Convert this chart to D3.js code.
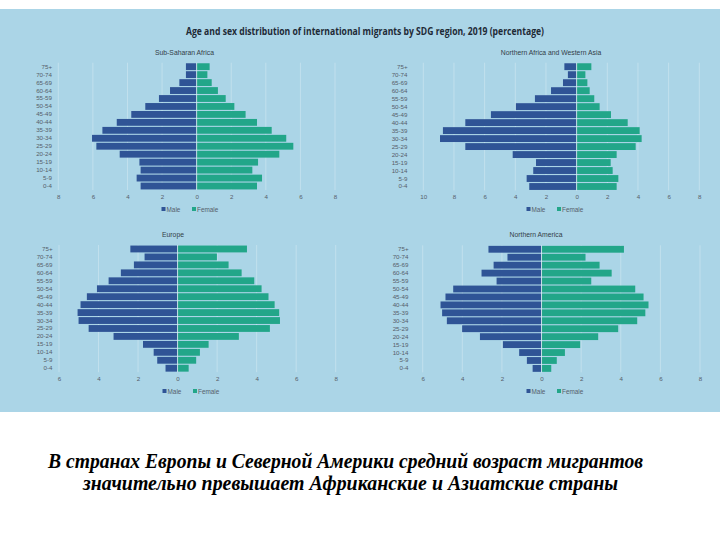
<!DOCTYPE html>
<html>
<head>
<meta charset="utf-8">
<script src="https://cdn.jsdelivr.net/npm/d3@7"></script>
<style>
  html, body { margin: 0; padding: 0; background: #ffffff; }
  svg { display: block; }
</style>
</head>
<body>
<svg id="chart" width="720" height="540"></svg>
<script>
// ---------- DATA ----------
const chartTitle = "Age and sex distribution of international migrants by SDG region, 2019 (percentage)";
const ageGroups = ["0-4","5-9","10-14","15-19","20-24","25-29","30-34","35-39","40-44","45-49","50-54","55-59","60-64","65-69","70-74","75+"];
const regionNames = ["Sub-Saharan Africa","Northern Africa and Western Asia","Europe","Northern America"];
const seriesNames = ["Male","Female"];

const ssaMale   = [3.24,3.47,3.24,3.31,4.45,5.80,6.05,5.45,4.62,3.78,2.97,2.18,1.54,1.00,0.62,0.62];
const ssaFemale = [3.49,3.78,3.22,3.55,4.78,5.59,5.18,4.34,3.49,2.83,2.18,1.68,1.23,0.87,0.62,0.75];
const nawaMale   = [3.09,3.26,2.83,2.65,4.17,7.26,8.91,8.72,7.26,5.59,3.96,2.72,1.67,0.89,0.57,0.80];
const nawaFemale = [2.61,2.72,2.35,2.22,2.61,3.85,4.24,4.11,3.33,2.24,1.50,1.15,0.85,0.70,0.57,0.96];
const eurMale   = [0.61,1.03,1.21,1.75,3.24,4.50,5.01,5.06,4.91,4.59,4.08,3.49,2.87,2.21,1.67,2.39];
const eurFemale = [0.56,0.94,1.13,1.57,3.10,4.67,5.18,5.14,4.91,4.60,4.25,3.88,3.24,2.58,1.99,3.51];
const naMale   = [0.45,0.74,1.13,1.95,3.11,4.01,4.78,5.02,5.10,4.85,4.46,2.27,3.03,2.42,1.72,2.68];
const naFemale = [0.49,0.77,1.18,1.95,2.86,3.87,4.83,5.24,5.40,5.15,4.73,2.51,3.54,2.93,2.22,4.16];

const ssaTicks  = [-8,-6,-4,-2,0,2,4,6,8];
const nawaTicks = [-10,-8,-6,-4,-2,0,2,4,6,8];
const eurTicks  = [-6,-4,-2,0,2,4,6,8];
const naTicks   = [-6,-4,-2,0,2,4,6,8];

const captionLines = [
  "В странах Европы и Северной Америки средний возраст мигрантов",
  "значительно превышает Африканские и Азиатские страны"
];

// ---------- STYLE / LAYOUT ----------
const colors = { bg: "#abd5e7", male: "#2f5496", female: "#22a689", text: "#3a4654", tick: "#56606a" };
const panels = [
  { name: regionNames[0], male: ssaMale,  female: ssaFemale,  ticks: ssaTicks,  x0: 58.3,  x1: 335,   yTop: 62.7,  yBot: 190,   titleX: 184.5, titleY: 52,  labelX: 52,  tickY: 197, legendX: 188, legendY: 209 },
  { name: regionNames[1], male: nawaMale, female: nawaFemale, ticks: nawaTicks, x0: 423.3, x1: 699.3, yTop: 62.7,  yBot: 190.5, titleX: 551,   titleY: 52,  labelX: 407.5, tickY: 197, legendX: 553, legendY: 209 },
  { name: regionNames[2], male: eurMale,  female: eurFemale,  ticks: eurTicks,  x0: 59,    x1: 335.7, yTop: 245,   yBot: 372.2, titleX: 173,   titleY: 234, labelX: 52.5, tickY: 379, legendX: 189, legendY: 391 },
  { name: regionNames[3], male: naMale,   female: naFemale,   ticks: naTicks,   x0: 422.7, x1: 700,   yTop: 245.3, yBot: 372.4, titleX: 536,   titleY: 234, labelX: 408.5, tickY: 379, legendX: 553, legendY: 391 }
];

const svg = d3.select("#chart");

// background panel
svg.append("rect").attr("x", 0).attr("y", 9).attr("width", 720).attr("height", 403).attr("fill", colors.bg);

// main title
svg.append("text")
  .attr("x", 365).attr("y", 30).attr("text-anchor", "middle").attr("dominant-baseline", "central")
  .attr("font-family", "'Open Sans', 'Liberation Sans', sans-serif").attr("font-weight", 700)
  .attr("font-size", 11).attr("fill", "#1e2a36")
  .attr("textLength", 358).attr("lengthAdjust", "spacingAndGlyphs")
  .text(chartTitle);

panels.forEach(p => {
  const g = svg.append("g");
  const x = d3.scaleLinear().domain([p.ticks[0], p.ticks[p.ticks.length - 1]]).range([p.x0, p.x1]);
  const y = d3.scaleBand().domain(ageGroups.slice().reverse()).range([p.yTop, p.yBot]).paddingInner(0.14).paddingOuter(0.07);

  // faint gridlines
  g.append("g").selectAll("line").data(p.ticks.filter(t => t !== 0)).join("line")
    .attr("x1", d => x(d)).attr("x2", d => x(d))
    .attr("y1", p.yTop).attr("y2", p.yBot)
    .attr("stroke", "#ffffff").attr("stroke-opacity", 0.35).attr("stroke-width", 0.8);

  // bars
  const rows = ageGroups.map((a, i) => ({ age: a, m: p.male[i], f: p.female[i] }));
  g.append("g").selectAll("rect").data(rows).join("rect")
    .attr("x", d => x(-d.m)).attr("width", d => x(0) - x(-d.m))
    .attr("y", d => y(d.age)).attr("height", y.bandwidth())
    .attr("fill", colors.male);
  g.append("g").selectAll("rect").data(rows).join("rect")
    .attr("x", x(0)).attr("width", d => x(d.f) - x(0))
    .attr("y", d => y(d.age)).attr("height", y.bandwidth())
    .attr("fill", colors.female);

  // zero line
  g.append("line").attr("x1", x(0)).attr("x2", x(0)).attr("y1", p.yTop).attr("y2", p.yBot)
    .attr("stroke", "#e8f3f8").attr("stroke-width", 0.8);

  // category axis labels
  const yAxis = d3.axisLeft(y).tickSize(0).tickPadding(0);
  const ya = g.append("g").attr("transform", `translate(${p.labelX},0)`).call(yAxis);
  ya.select(".domain").remove();
  ya.selectAll("text").attr("font-family", "'Liberation Sans', Arial, sans-serif").attr("font-size", 6.2).attr("fill", colors.tick);

  // value axis
  const xAxis = d3.axisBottom(x).tickValues(p.ticks).tickSize(0).tickPadding(0).tickFormat(d => Math.abs(d));
  const xa = g.append("g").attr("transform", `translate(0,${p.tickY})`).call(xAxis);
  xa.select(".domain").remove();
  xa.selectAll("text").attr("dy", "0.35em").attr("y", 0)
    .attr("font-family", "'Liberation Sans', Arial, sans-serif").attr("font-size", 6.2).attr("fill", colors.tick);

  // panel title
  g.append("text").attr("x", p.titleX).attr("y", p.titleY).attr("text-anchor", "middle").attr("dominant-baseline", "central")
    .attr("font-family", "'Liberation Sans', Arial, sans-serif").attr("font-size", 6.8).attr("fill", "#333d48")
    .text(p.name);

  // legend
  const lg = g.append("g").attr("transform", `translate(${p.legendX - 26.5},${p.legendY})`);
  const items = [{ n: seriesNames[0], c: colors.male, dx: 0 }, { n: seriesNames[1], c: colors.female, dx: 30.5 }];
  items.forEach(it => {
    lg.append("rect").attr("x", it.dx).attr("y", -2).attr("width", 4).attr("height", 4).attr("fill", it.c);
    lg.append("text").attr("x", it.dx + 5).attr("y", 0).attr("dominant-baseline", "central")
      .attr("font-family", "'Liberation Sans', Arial, sans-serif").attr("font-size", 6.4).attr("fill", colors.tick)
      .text(it.n);
  });
});

// caption
const capWidths = [595, 535];
const capCenters = [345.5, 350.5];
const capBaselines = [468, 490];
captionLines.forEach((line, i) => {
  svg.append("text")
    .attr("x", capCenters[i]).attr("y", capBaselines[i]).attr("text-anchor", "middle")
    .attr("font-family", "'Liberation Serif', 'Times New Roman', serif").attr("font-weight", 700).attr("font-style", "italic")
    .attr("font-size", 20).attr("fill", "#000")
    .attr("textLength", capWidths[i]).attr("lengthAdjust", "spacingAndGlyphs")
    .text(line);
});
</script>
</body>
</html>
